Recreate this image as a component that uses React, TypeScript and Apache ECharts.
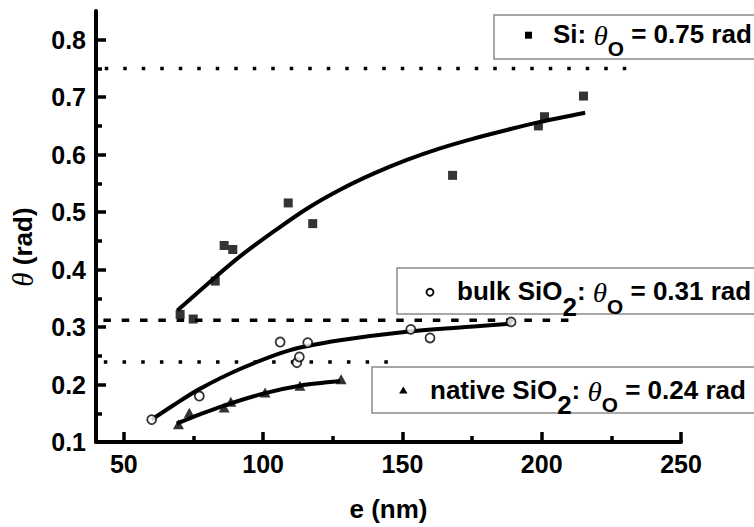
import React, { useEffect, useRef } from 'react';
import * as echarts from 'echarts';

// Axis ticks
const X_MAJOR = [50, 100, 150, 200, 250];
const X_MINOR = [75, 125, 175, 225];
const Y_MAJOR = [0.1, 0.2, 0.3, 0.4, 0.5, 0.6, 0.7, 0.8];
const Y_MINOR = [0.15, 0.25, 0.35, 0.45, 0.55, 0.65, 0.75];

// Si (filled squares)
const siPoints = [
  [70.2, 0.322], [74.9, 0.314], [82.8, 0.38], [86.0, 0.442], [89.1, 0.435],
  [109.0, 0.516], [117.8, 0.48], [168.0, 0.564], [198.8, 0.65], [201.0, 0.666], [215.0, 0.702],
];
const siFit = [
  [69.2, 0.329], [83.1, 0.388], [91.7, 0.423], [103.7, 0.466], [115.7, 0.506],
  [127.6, 0.539], [139.6, 0.567], [151.6, 0.591], [163.5, 0.611], [175.5, 0.628],
  [187.5, 0.643], [199.4, 0.657], [215.6, 0.673],
];

// bulk SiO2 (open circles)
const bulkPoints = [
  [60.0, 0.139], [77.1, 0.18], [106.1, 0.274], [112.1, 0.238], [113.0, 0.248],
  [116.0, 0.273], [153.0, 0.296], [159.9, 0.281], [189.0, 0.309],
];
const bulkFit = [
  [60.0, 0.139], [67.8, 0.164], [77.1, 0.192], [91.7, 0.227], [109.7, 0.26],
  [127.6, 0.277], [151.6, 0.292], [175.5, 0.301], [189.2, 0.306],
];

// native SiO2 (filled triangles)
const nativePoints = [
  [69.6, 0.131], [73.5, 0.151], [86.0, 0.16], [88.4, 0.17], [100.7, 0.186],
  [113.2, 0.198], [128.0, 0.209],
];
const nativeFit = [
  [69.0, 0.132], [77.3, 0.148], [85.7, 0.163], [100.7, 0.185], [113.2, 0.198], [127.6, 0.206],
];

// asymptotes theta_0
const siAsym = [[36.5, 0.75], [230.5, 0.75]];
const bulkAsym = [[36.1, 0.312], [210.8, 0.312]];
const nativeAsym = [[36.1, 0.239], [150.2, 0.239]];

const FONT = '"Liberation Sans", Arial, Helvetica, sans-serif';
const SERIF = '"Liberation Serif", "Times New Roman", serif';

const legendRich: any = {
  a: { fontSize: 25, fontWeight: 'bold', fontFamily: FONT, fill: '#000', lineHeight: 26, verticalAlign: 'top' },
  s: { fontSize: 25, fontWeight: 'bold', fontFamily: FONT, fill: '#000', lineHeight: 48, verticalAlign: 'middle' },
  t: { fontSize: 28, fontStyle: 'italic', fontWeight: 'normal', fontFamily: SERIF, fill: '#000', lineHeight: 26, verticalAlign: 'top' },
  o: { fontSize: 20, fontWeight: 'bold', fontFamily: FONT, fill: '#000', lineHeight: 56, verticalAlign: 'middle' },
};

export default function App() {
  const ref = useRef<HTMLDivElement>(null);
  useEffect(() => {
    if (!ref.current) return;
    const chart = echarts.init(ref.current, null, { renderer: 'svg' });
    const axisLineStyle = { color: '#000', width: 4 };
    const labelStyle = { fontSize: 25, fontWeight: 'bold' as const, color: '#000', fontFamily: FONT };
    const legendText = (x: number, y: number, text: string) => ({
      type: 'text', x, y, scaleX: 1.04, z: 20,
      style: { text, rich: legendRich, align: 'left', verticalAlign: 'top', textAlign: 'left', textVerticalAlign: 'top' },
    });
    const box = (x: number, y: number, h: number) => ({
      type: 'rect', z: 18, shape: { x, y, width: 420, height: h },
      style: { fill: '#fff', stroke: '#8a8a8a', lineWidth: 1.5 },
    });
    const option: any = {
      animation: false,
      backgroundColor: '#fff',
      grid: { left: 96, right: 73, top: 11, bottom: 84, containLabel: false },
      xAxis: [
        {
          type: 'value', min: 40, max: 250,
          axisLine: { show: true, onZero: false, lineStyle: axisLineStyle },
          axisTick: { show: true, inside: true, length: 10, customValues: X_MAJOR, lineStyle: { color: '#000', width: 3.5 } },
          axisLabel: { ...labelStyle, customValues: X_MAJOR, margin: 9 },
          splitLine: { show: false },
          name: 'e (nm)', nameLocation: 'middle', nameGap: 54,
          nameTextStyle: { fontSize: 26, fontWeight: 'bold', color: '#000', fontFamily: FONT },
        },
        {
          type: 'value', min: 40, max: 250, position: 'bottom',
          axisLine: { show: false },
          axisTick: { show: true, inside: true, length: 6, customValues: X_MINOR, lineStyle: { color: '#000', width: 3.5 } },
          axisLabel: { show: false },
          splitLine: { show: false },
        },
      ],
      yAxis: [
        {
          type: 'value', min: 0.1, max: 0.85,
          axisLine: { show: true, onZero: false, lineStyle: axisLineStyle },
          axisTick: { show: true, inside: true, length: 10, customValues: Y_MAJOR, lineStyle: { color: '#000', width: 3.5 } },
          axisLabel: { ...labelStyle, customValues: Y_MAJOR, margin: 10, formatter: (v: number) => v.toFixed(1) },
          splitLine: { show: false },
        },
        {
          type: 'value', min: 0.1, max: 0.85, position: 'left',
          axisLine: { show: false },
          axisTick: { show: true, inside: true, length: 6, customValues: Y_MINOR, lineStyle: { color: '#000', width: 3.5 } },
          axisLabel: { show: false },
          splitLine: { show: false },
        },
      ],
      series: [
        { type: 'line', data: siAsym, symbol: 'none', clip: false, z: 1,
          lineStyle: { color: '#000', width: 3.5, type: [3.5, 15], cap: 'butt' } },
        { type: 'line', data: bulkAsym, symbol: 'none', clip: false, z: 1,
          lineStyle: { color: '#000', width: 3.5, type: [7.5, 10.8], cap: 'butt' } },
        { type: 'line', data: nativeAsym, symbol: 'none', clip: false, z: 1,
          lineStyle: { color: '#000', width: 3.5, type: [3.5, 15.2], cap: 'butt' } },
        { type: 'line', data: siFit, symbol: 'none', smooth: 0.3, z: 2, lineStyle: { color: '#000', width: 4 } },
        { type: 'line', data: bulkFit, symbol: 'none', smooth: 0.3, z: 2, lineStyle: { color: '#000', width: 4 } },
        { type: 'line', data: nativeFit, symbol: 'none', smooth: 0.3, z: 2, lineStyle: { color: '#000', width: 4 } },
        { type: 'scatter', data: siPoints, symbol: 'rect', symbolSize: 9, z: 3, itemStyle: { color: '#000' } },
        { type: 'scatter', data: bulkPoints, symbol: 'circle', symbolSize: 9, z: 3,
          itemStyle: { color: '#fff', borderColor: '#000', borderWidth: 1.8 } },
        { type: 'scatter', data: nativePoints, symbol: 'triangle', symbolSize: [11, 10], z: 3, itemStyle: { color: '#000' } },
      ],
      graphic: [
        {
          type: 'text', x: 23, y: 247, rotation: Math.PI / 2, z: 20,
          style: {
            text: '{t|θ}{a| (rad)}', align: 'center', verticalAlign: 'middle', textAlign: 'center', textVerticalAlign: 'middle',
            rich: {
              t: { fontSize: 29, fontStyle: 'italic', fontFamily: SERIF, fill: '#000' },
              a: { fontSize: 26, fontWeight: 'bold', fontFamily: FONT, fill: '#000' },
            },
          },
        },
        box(494, 15, 44),
        { type: 'rect', z: 20, shape: { x: 525, y: 31.7, width: 7, height: 7 }, style: { fill: '#000' } },
        legendText(553, 21.3, '{a|Si: }{t|θ}{o|O}{a| = 0.75 rad}'),
        box(397, 268, 46),
        { type: 'circle', z: 20, shape: { cx: 430, cy: 292.3, r: 3.5 }, style: { fill: '#fff', stroke: '#000', lineWidth: 1.8 } },
        legendText(457, 279, '{a|bulk SiO}{s|2}{a|: }{t|θ}{o|O}{a| = 0.31 rad}'),
        box(372, 367, 46),
        { type: 'polygon', z: 20, shape: { points: [[403.3, 386.5], [399.1, 393.6], [407.5, 393.6]] }, style: { fill: '#000' } },
        legendText(430, 377.3, '{a|native SiO}{s|2}{a|: }{t|θ}{o|O}{a| = 0.24 rad}'),
      ],
    };
    chart.setOption(option);
    return () => chart.dispose();
  }, []);
  return <div ref={ref} style={{ position: 'fixed', left: 0, top: 0, width: 754, height: 527, background: '#fff' }} />;
}
